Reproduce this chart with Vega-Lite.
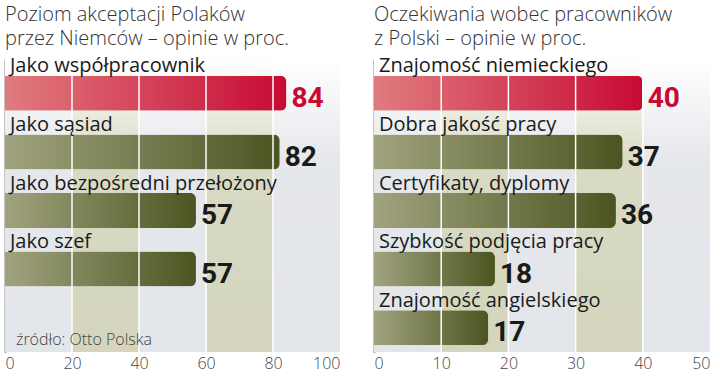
{
  "$schema": "https://vega.github.io/schema/vega-lite/v6.json",
  "background": "white",
  "padding": {"left": 5, "top": 5, "right": 5, "bottom": 4},
  "spacing": 34,
  "config": {
    "view": {"stroke": null},
    "font": "Open Sans",
    "axisX": {"grid": false, "domain": false, "ticks": false, "title": null, "labelFont": "Open Sans", "labelFontWeight": 300, "labelFontSize": 16, "labelColor": "#444444", "labelPadding": 3},
    "axisY": {"labels": false, "ticks": false, "title": null, "grid": false, "domain": true, "domainColor": "#111111", "domainWidth": 1.5, "zindex": 2}
  },
  "datasets": {
    "left": [
      {"cat": "Jako współpracownik", "value": 84, "hl": true},
      {"cat": "Jako sąsiad", "value": 82, "hl": false},
      {"cat": "Jako bezpośredni przełożony", "value": 57, "hl": false},
      {"cat": "Jako szef", "value": 57, "hl": false}
    ],
    "right": [
      {"cat": "Znajomość  niemieckiego", "value": 40, "hl": true},
      {"cat": "Dobra jakość pracy", "value": 37, "hl": false},
      {"cat": "Certyfikaty, dyplomy", "value": 36, "hl": false},
      {"cat": "Szybkość podjęcia pracy", "value": 18, "hl": false},
      {"cat": "Znajomość angielskiego", "value": 17, "hl": false}
    ],
    "source": [{"cat": "źródło: Otto Polska", "value": 0}],
    "bandsL": [
      {"value": 0, "end": 100, "kind": "base"},
      {"value": 20, "end": 40, "kind": "band"},
      {"value": 60, "end": 80, "kind": "band"}
    ],
    "bandsR": [
      {"value": 0, "end": 50, "kind": "base"},
      {"value": 10, "end": 20, "kind": "band"},
      {"value": 30, "end": 40, "kind": "band"}
    ],
    "gridL": [{"value": 20}, {"value": 40}, {"value": 60}, {"value": 80}],
    "gridR": [{"value": 10}, {"value": 20}, {"value": 30}, {"value": 40}]
  },
  "hconcat": [
    {
      "width": 335,
      "height": 293,
      "title": {"text": ["Poziom akceptacji Polaków", "przez Niemców – opinie w proc."], "anchor": "start", "font": "Open Sans", "fontSize": 20, "fontWeight": 300, "color": "#333333", "lineHeight": 24, "offset": 7},
      "layer": [
        {
          "data": {"name": "bandsL"},
          "transform": [{"filter": "datum.kind == 'base'"}],
          "mark": {"type": "rect", "color": {"gradient": "linear", "x1": 0, "y1": 0, "x2": 0, "y2": 1, "stops": [{"offset": 0, "color": "#ffffff"}, {"offset": 0.35, "color": "#e5e7eb"}, {"offset": 1, "color": "#e2e5e9"}]}},
          "encoding": {
            "x": {"field": "value", "type": "quantitative", "scale": {"domain": [0, 100]}, "axis": {"values": [0, 20, 40, 60, 80, 100]}},
            "x2": {"field": "end"}
          }
        },
        {
          "data": {"name": "bandsL"},
          "transform": [{"filter": "datum.kind == 'band'"}],
          "mark": {"type": "rect", "color": {"gradient": "linear", "x1": 0, "y1": 0, "x2": 0, "y2": 1, "stops": [{"offset": 0, "color": "#ffffff"}, {"offset": 0.35, "color": "#d9dac4"}, {"offset": 1, "color": "#d4d5bc"}]}},
          "encoding": {
            "x": {"field": "value", "type": "quantitative", "scale": {"domain": [0, 100]}, "axis": {"values": [0, 20, 40, 60, 80, 100]}},
            "x2": {"field": "end"}
          }
        },
        {
          "data": {"name": "left"},
          "transform": [{"filter": "!datum.hl"}],
          "mark": {"type": "bar", "height": 35, "yOffset": 5, "cornerRadiusEnd": 6, "color": {"gradient": "linear", "x1": 0, "y1": 0, "x2": 1, "y2": 0, "stops": [{"offset": 0, "color": "#a1a37e"}, {"offset": 1, "color": "#4b5521"}]}},
          "encoding": {
            "x": {"field": "value", "type": "quantitative", "scale": {"domain": [0, 100]}, "axis": {"values": [0, 20, 40, 60, 80, 100]}},
            "y": {"field": "cat", "type": "nominal", "scale": {"domain": ["Jako współpracownik", "Jako sąsiad", "Jako bezpośredni przełożony", "Jako szef", "źródło: Otto Polska"], "paddingInner": 0, "paddingOuter": 0}}
          }
        },
        {
          "data": {"name": "left"},
          "transform": [{"filter": "datum.hl"}],
          "mark": {"type": "bar", "height": 35, "yOffset": 5, "cornerRadiusEnd": 6, "color": {"gradient": "linear", "x1": 0, "y1": 0, "x2": 1, "y2": 0, "stops": [{"offset": 0, "color": "#e07c7f"}, {"offset": 1, "color": "#c80a33"}]}},
          "encoding": {
            "x": {"field": "value", "type": "quantitative", "scale": {"domain": [0, 100]}, "axis": {"values": [0, 20, 40, 60, 80, 100]}},
            "y": {"field": "cat", "type": "nominal"}
          }
        },
        {
          "data": {"name": "gridL"},
          "mark": {"type": "rule", "color": "#ffffff", "strokeWidth": 1.5},
          "encoding": {
            "x": {"field": "value", "type": "quantitative", "scale": {"domain": [0, 100]}, "axis": {"values": [0, 20, 40, 60, 80, 100]}}
          }
        },
        {
          "data": {"name": "left"},
          "mark": {"type": "text", "align": "left", "baseline": "alphabetic", "dx": 5, "dy": 18.6, "font": "Roboto", "fontWeight": "bold", "fontSize": 28},
          "encoding": {
            "x": {"field": "value", "type": "quantitative", "scale": {"domain": [0, 100]}, "axis": {"values": [0, 20, 40, 60, 80, 100]}},
            "y": {"field": "cat", "type": "nominal"},
            "text": {"field": "value", "type": "quantitative"},
            "color": {"condition": {"test": "datum.hl", "value": "#c80a33"}, "value": "#1a1a1a"}
          }
        },
        {
          "data": {"name": "left"},
          "mark": {"type": "text", "align": "left", "baseline": "alphabetic", "dx": 5, "dy": -16, "font": "Open Sans", "fontSize": 20, "color": "#1a1a1a"},
          "encoding": {
            "x": {"datum": 0, "type": "quantitative", "scale": {"domain": [0, 100]}, "axis": {"values": [0, 20, 40, 60, 80, 100]}},
            "y": {"field": "cat", "type": "nominal"},
            "text": {"field": "cat", "type": "nominal"}
          }
        },
        {
          "data": {"name": "source"},
          "mark": {"type": "text", "align": "left", "baseline": "alphabetic", "dx": 11, "dy": 22, "font": "Open Sans", "fontWeight": 300, "fontSize": 16, "color": "#444444"},
          "encoding": {
            "x": {"field": "value", "type": "quantitative", "scale": {"domain": [0, 100]}, "axis": {"values": [0, 20, 40, 60, 80, 100]}},
            "y": {"field": "cat", "type": "nominal"},
            "text": {"field": "cat", "type": "nominal"}
          }
        }
      ]
    },
    {
      "width": 336,
      "height": 293,
      "title": {"text": ["Oczekiwania wobec pracowników", "z Polski – opinie w proc."], "anchor": "start", "font": "Open Sans", "fontSize": 20, "fontWeight": 300, "color": "#333333", "lineHeight": 24, "offset": 7},
      "layer": [
        {
          "data": {"name": "bandsR"},
          "transform": [{"filter": "datum.kind == 'base'"}],
          "mark": {"type": "rect", "color": {"gradient": "linear", "x1": 0, "y1": 0, "x2": 0, "y2": 1, "stops": [{"offset": 0, "color": "#ffffff"}, {"offset": 0.35, "color": "#e5e7eb"}, {"offset": 1, "color": "#e2e5e9"}]}},
          "encoding": {
            "x": {"field": "value", "type": "quantitative", "scale": {"domain": [0, 50]}, "axis": {"values": [0, 10, 20, 30, 40, 50]}},
            "x2": {"field": "end"}
          }
        },
        {
          "data": {"name": "bandsR"},
          "transform": [{"filter": "datum.kind == 'band'"}],
          "mark": {"type": "rect", "color": {"gradient": "linear", "x1": 0, "y1": 0, "x2": 0, "y2": 1, "stops": [{"offset": 0, "color": "#ffffff"}, {"offset": 0.35, "color": "#d9dac4"}, {"offset": 1, "color": "#d4d5bc"}]}},
          "encoding": {
            "x": {"field": "value", "type": "quantitative", "scale": {"domain": [0, 50]}, "axis": {"values": [0, 10, 20, 30, 40, 50]}},
            "x2": {"field": "end"}
          }
        },
        {
          "data": {"name": "right"},
          "transform": [{"filter": "!datum.hl"}],
          "mark": {"type": "bar", "height": 35, "yOffset": 5, "cornerRadiusEnd": 6, "color": {"gradient": "linear", "x1": 0, "y1": 0, "x2": 1, "y2": 0, "stops": [{"offset": 0, "color": "#a1a37e"}, {"offset": 1, "color": "#4b5521"}]}},
          "encoding": {
            "x": {"field": "value", "type": "quantitative", "scale": {"domain": [0, 50]}, "axis": {"values": [0, 10, 20, 30, 40, 50]}},
            "y": {"field": "cat", "type": "nominal", "scale": {"domain": ["Znajomość  niemieckiego", "Dobra jakość pracy", "Certyfikaty, dyplomy", "Szybkość podjęcia pracy", "Znajomość angielskiego"], "paddingInner": 0, "paddingOuter": 0}}
          }
        },
        {
          "data": {"name": "right"},
          "transform": [{"filter": "datum.hl"}],
          "mark": {"type": "bar", "height": 35, "yOffset": 5, "cornerRadiusEnd": 6, "color": {"gradient": "linear", "x1": 0, "y1": 0, "x2": 1, "y2": 0, "stops": [{"offset": 0, "color": "#e07c7f"}, {"offset": 1, "color": "#c80a33"}]}},
          "encoding": {
            "x": {"field": "value", "type": "quantitative", "scale": {"domain": [0, 50]}, "axis": {"values": [0, 10, 20, 30, 40, 50]}},
            "y": {"field": "cat", "type": "nominal"}
          }
        },
        {
          "data": {"name": "gridR"},
          "mark": {"type": "rule", "color": "#ffffff", "strokeWidth": 1.5},
          "encoding": {
            "x": {"field": "value", "type": "quantitative", "scale": {"domain": [0, 50]}, "axis": {"values": [0, 10, 20, 30, 40, 50]}}
          }
        },
        {
          "data": {"name": "right"},
          "mark": {"type": "text", "align": "left", "baseline": "alphabetic", "dx": 5, "dy": 18.6, "font": "Roboto", "fontWeight": "bold", "fontSize": 28},
          "encoding": {
            "x": {"field": "value", "type": "quantitative", "scale": {"domain": [0, 50]}, "axis": {"values": [0, 10, 20, 30, 40, 50]}},
            "y": {"field": "cat", "type": "nominal"},
            "text": {"field": "value", "type": "quantitative"},
            "color": {"condition": {"test": "datum.hl", "value": "#c80a33"}, "value": "#1a1a1a"}
          }
        },
        {
          "data": {"name": "right"},
          "mark": {"type": "text", "align": "left", "baseline": "alphabetic", "dx": 5, "dy": -16, "font": "Open Sans", "fontSize": 20, "color": "#1a1a1a"},
          "encoding": {
            "x": {"datum": 0, "type": "quantitative", "scale": {"domain": [0, 50]}, "axis": {"values": [0, 10, 20, 30, 40, 50]}},
            "y": {"field": "cat", "type": "nominal"},
            "text": {"field": "cat", "type": "nominal"}
          }
        }
      ]
    }
  ]
}
